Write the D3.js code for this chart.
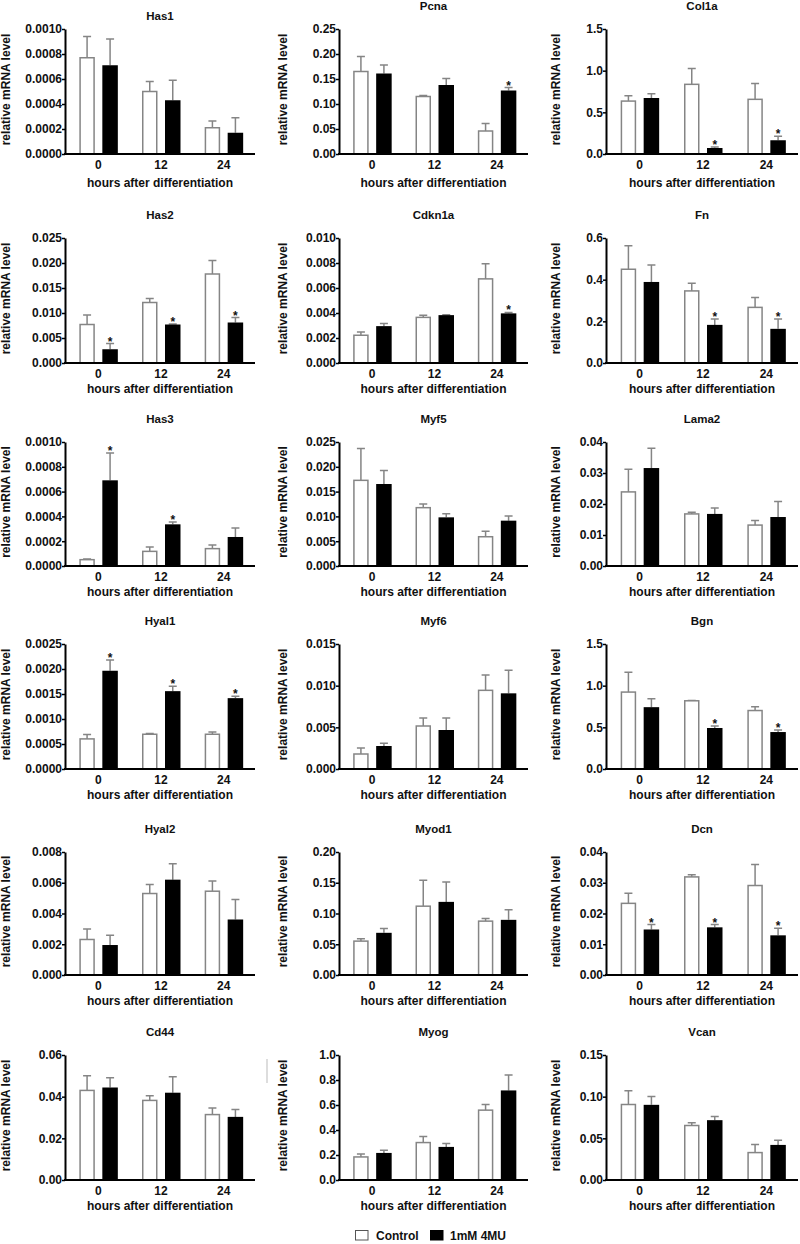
<!DOCTYPE html>
<html>
<head>
<meta charset="utf-8">
<script src="https://cdn.jsdelivr.net/npm/d3@7"></script>
<style>
  html, body { margin: 0; padding: 0; background: #fff; }
  svg text { font-family: "Liberation Sans", Arial, sans-serif; font-weight: bold; fill: #111; }
</style>
</head>
<body>
<script>
// ---------------- DATA ----------------
const genes = ["Has1","Pcna","Col1a","Has2","Cdkn1a","Fn","Has3","Myf5","Lama2",
               "Hyal1","Myf6","Bgn","Hyal2","Myod1","Dcn","Cd44","Myog","Vcan"];
const hours = ["0","12","24"];
const seriesNames = ["Control","1mM 4MU"];

const yMax = [0.0010,0.25,1.5,0.025,0.010,0.6,0.0010,0.025,0.04,0.0025,0.015,1.5,0.008,0.20,0.04,0.06,1.0,0.15];
const yStep = [0.0002,0.05,0.5,0.005,0.002,0.2,0.0002,0.005,0.01,0.0005,0.005,0.5,0.002,0.05,0.01,0.02,0.2,0.05];
const yDecimals = [4,2,1,3,3,1,4,3,2,4,3,1,3,2,2,2,1,2];

const controlMean = [
  [0.00077,0.00050,0.00021],[0.165,0.115,0.046],[0.635,0.836,0.656],
  [0.0077,0.0121,0.0178],[0.00222,0.00365,0.00673],[0.450,0.346,0.267],
  [0.000051,0.000118,0.00014],[0.01727,0.01176,0.0059],[0.0239,0.0168,0.0132],
  [0.000602,0.000695,0.000695],[0.0018,0.00516,0.00944],[0.923,0.8185,0.7016],
  [0.00231,0.0053,0.00545],[0.0551,0.1119,0.0876],[0.0233,0.0319,0.0291],
  [0.043,0.0382,0.0314],[0.1845,0.2995,0.5588],[0.0906,0.0654,0.0329]
];
const controlSEM = [
  [0.00017,0.00008,0.000055],[0.030,0.002,0.015],[0.065,0.19,0.19],
  [0.0019,0.0008,0.0027],[0.00027,0.00018,0.00121],[0.113,0.037,0.048],
  [0.000006,0.000035,0.000029],[0.0064,0.00074,0.0011],[0.0073,0.0005,0.0015],
  [0.000086,0.000014,0.000047],[0.00072,0.00096,0.00184],[0.238,0.004,0.044],
  [0.00069,0.00058,0.00067],[0.0038,0.0421,0.0043],[0.0033,0.0007,0.0068],
  [0.0070,0.0022,0.0032],[0.024,0.048,0.0455],[0.0165,0.0032,0.0096]
];
const mu4Mean = [
  [0.00071,0.00043,0.00017],[0.161,0.138,0.127],[0.672,0.072,0.165],
  [0.00275,0.0077,0.0081],[0.00295,0.00383,0.00397],[0.389,0.183,0.164],
  [0.000691,0.000336,0.000234],[0.01653,0.00981,0.00914],[0.0316,0.0168,0.0158],
  [0.001965,0.001557,0.001417],[0.00276,0.00468,0.00908],[0.742,0.492,0.4435],
  [0.00195,0.0062,0.00361],[0.0686,0.1189,0.0897],[0.0148,0.0155,0.0129],
  [0.0444,0.0419,0.0303],[0.2166,0.2647,0.7166],[0.0902,0.0718,0.0421]
];
const mu4SEM = [
  [0.00021,0.00016,0.00012],[0.017,0.013,0.006],[0.052,0.012,0.048],
  [0.00115,0.0001,0.001],[0.00021,0.00003,0.00008],[0.081,0.028,0.047],
  [0.00022,0.000019,0.000072],[0.0027,0.00074,0.00094],[0.0064,0.0019,0.0050],
  [0.000214,0.0001,0.00004],[0.00032,0.00144,0.00276],[0.101,0.024,0.025],
  [0.00063,0.00104,0.0013],[0.0071,0.0325,0.0163],[0.0016,0.0009,0.0023],
  [0.0047,0.0077,0.0035],[0.0214,0.0267,0.123],[0.0101,0.0044,0.0056]
];
// time points where the 4MU bar carries a significance star
const mu4Stars = [
  [],["24"],["12","24"],
  ["0","12","24"],["24"],["12","24"],
  ["0","12"],[],[],
  ["0","12","24"],[],["12","24"],
  [],[],["0","12","24"],
  [],[],[]
];
const yLabelText = "relative mRNA level";
const xLabelText = "hours after differentiation";

// ---------------- LAYOUT ----------------
const W = 800, H = 1244;
const colAxisX = [65, 339, 606];
const colEnd = [255, 528, 798];
const yLabelBaseX = [10, 286.5, 560];
const rowTop = [29, 238, 442, 644, 852, 1055];
const rowBottom = [154, 363, 566, 769, 975, 1180];
const xLabelGap = [33, 30, 30, 30, 30, 30];
const titleGap = 19;
const GREY = "#858585";

const svg = d3.select("body").append("svg")
  .attr("width", W).attr("height", H);

const inner = d3.scaleBand().domain(seriesNames).range([-19, 19.5]).paddingInner(0.326).paddingOuter(0);

genes.forEach((gene, i) => {
  const r = Math.floor(i / 3), c = i % 3;
  const ax = colAxisX[c], ex = colEnd[c];
  const top = rowTop[r], bot = rowBottom[r];
  const g = svg.append("g");

  const x = d3.scaleBand().domain(hours).range([ax + 2, ex]).paddingInner(0).paddingOuter(0);
  const y = d3.scaleLinear().domain([0, yMax[i]]).range([bot, top]);
  const ticks = d3.range(0, yMax[i] + yStep[i] / 2, yStep[i]);

  // title
  g.append("text")
    .attr("x", (ax + ex) / 2)
    .attr("y", top - (i === 0 ? 9 : titleGap))
    .attr("text-anchor", "middle")
    .attr("font-size", 11.5)
    .text(gene);

  // y label
  g.append("text")
    .attr("transform", `translate(${yLabelBaseX[c]},${(top + bot) / 2 - 2}) rotate(-90)`)
    .attr("text-anchor", "middle")
    .attr("font-size", 12)
    .text(yLabelText);

  // bars
  const rows = [];
  hours.forEach((h, k) => {
    rows.push({ h, s: seriesNames[0], m: controlMean[i][k], e: controlSEM[i][k] });
    rows.push({ h, s: seriesNames[1], m: mu4Mean[i][k], e: mu4SEM[i][k] });
  });
  const cx = d => x(d.h) + x.bandwidth() / 2 + inner(d.s) + inner.bandwidth() / 2;

  // error bars
  g.selectAll(".eb").data(rows).enter().append("path")
    .attr("d", d => {
      const xc = cx(d), y0 = y(d.m), y1 = y(d.m + d.e);
      return `M${xc},${y0}V${y1}M${xc - 4},${y1}H${xc + 4}`;
    })
    .attr("stroke", GREY).attr("stroke-width", 1.5).attr("fill", "none");

  g.selectAll(".bar").data(rows).enter().append("rect")
    .attr("x", d => x(d.h) + x.bandwidth() / 2 + inner(d.s) + (d.s === seriesNames[0] ? 0.75 : 0))
    .attr("width", d => inner.bandwidth() - (d.s === seriesNames[0] ? 1.5 : 0))
    .attr("y", d => y(d.m))
    .attr("height", d => bot - y(d.m))
    .attr("fill", d => d.s === seriesNames[0] ? "#fff" : "#000")
    .attr("stroke", d => d.s === seriesNames[0] ? GREY : "none")
    .attr("stroke-width", 1.5);

  // stars
  g.selectAll(".star").data(rows.filter(d => d.s === seriesNames[1] && mu4Stars[i].includes(d.h)))
    .enter().append("text")
    .attr("x", d => cx(d))
    .attr("y", d => y(d.m + d.e) + 2)
    .attr("text-anchor", "middle")
    .attr("font-size", 12)
    .text("*");

  // y axis
  const yAxis = d3.axisLeft(y).tickValues(ticks)
    .tickFormat(d3.format(`.${yDecimals[i]}f`))
    .tickSizeInner(3).tickSizeOuter(0).tickPadding(0);
  const ya = g.append("g").attr("transform", `translate(${ax},0)`).call(yAxis);
  ya.select(".domain").attr("stroke", "#000").attr("stroke-width", 2);
  ya.selectAll(".tick line").attr("stroke", "#000").attr("stroke-width", 1.5);
  ya.selectAll(".tick text").attr("font-size", 12).attr("font-family", null).attr("fill", "#111");

  // x axis
  const xAxis = d3.axisBottom(x).tickSize(0).tickPadding(6);
  const xa = g.append("g").attr("transform", `translate(0,${bot})`).call(xAxis);
  xa.select(".domain").remove();
  xa.selectAll(".tick text").attr("font-size", 12).attr("font-family", null).attr("fill", "#111");
  g.append("line").attr("x1", ax - 1).attr("x2", ex).attr("y1", bot).attr("y2", bot)
    .attr("stroke", "#000").attr("stroke-width", 2);

  g.append("text")
    .attr("x", (ax + ex) / 2)
    .attr("y", bot + xLabelGap[r])
    .attr("text-anchor", "middle")
    .attr("font-size", 12)
    .text(xLabelText);
});

// small grey scan artefact near Myog panel
svg.append("line").attr("x1", 267).attr("x2", 267).attr("y1", 1059).attr("y2", 1083)
  .attr("stroke", "#bbb").attr("stroke-width", 1);

// legend
const legend = svg.append("g");
const legendX = [355, 430];
seriesNames.forEach((s, k) => {
  legend.append("rect")
    .attr("x", legendX[k] + 0.5).attr("y", 1230.5)
    .attr("width", 12.5).attr("height", 9.5)
    .attr("fill", k === 0 ? "#fff" : "#000")
    .attr("stroke", k === 0 ? "#555" : "#000").attr("stroke-width", 1);
  legend.append("text")
    .attr("x", legendX[k] + (k === 0 ? 21 : 20)).attr("y", 1240)
    .attr("font-size", 12)
    .text(s);
});
</script>
</body>
</html>
